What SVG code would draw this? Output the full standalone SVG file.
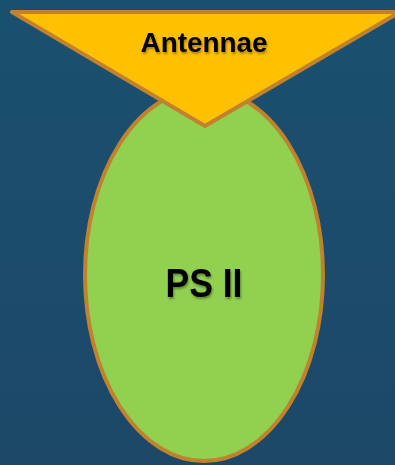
<svg xmlns="http://www.w3.org/2000/svg" width="395" height="465" viewBox="0 0 395 465">
  <defs>
    <linearGradient id="bg" x1="0" y1="0" x2="0" y2="1">
      <stop offset="0" stop-color="#1a506f"/>
      <stop offset="1" stop-color="#1d4868"/>
    </linearGradient>
    <filter id="sh" x="-10%" y="-20%" width="120%" height="140%">
      <feGaussianBlur in="SourceAlpha" stdDeviation="0.8"/>
      <feOffset dx="1" dy="1.5" result="b"/>
      <feComponentTransfer><feFuncA type="linear" slope="0.35"/></feComponentTransfer>
      <feMerge><feMergeNode/><feMergeNode in="SourceGraphic"/></feMerge>
    </filter>
  </defs>
  <style>
    .shape { stroke: #c0822e; stroke-width: 4; stroke-linejoin: round; }
    .lbl { font-family: "Liberation Sans", Arial, sans-serif; font-weight: bold; fill: #000; text-anchor: middle; filter: url(#sh); }
  </style>
  <rect width="395" height="465" fill="url(#bg)"/>
  <g id="ps2">
    <ellipse class="shape" cx="204" cy="275" rx="119" ry="186" fill="#92d050"/>
    <text class="lbl" x="204" y="297" font-size="41" textLength="77" lengthAdjust="spacingAndGlyphs">PS II</text>
  </g>
  <g id="antennae">
    <polygon class="shape" points="12,12 400,12 205,126" fill="#ffc000"/>
    <text class="lbl" x="204" y="52" font-size="27" textLength="127" lengthAdjust="spacingAndGlyphs">Antennae</text>
  </g>
  <g id="connectors"/>
</svg>
